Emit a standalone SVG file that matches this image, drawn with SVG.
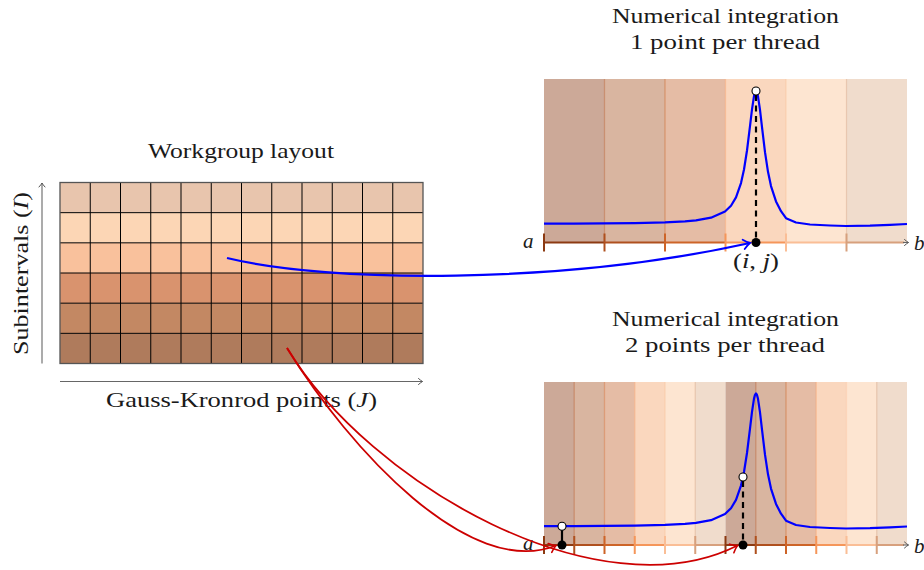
<svg xmlns="http://www.w3.org/2000/svg" xmlns:xlink="http://www.w3.org/1999/xlink" width="924" height="570" viewBox="0 0 924 570">
<defs>
<style>
.t{font-family:"Liberation Serif","Times New Roman",serif;font-size:21px;fill:#1a1a1a}
.m{font-style:italic}
.gl{stroke:#000;stroke-width:1;fill:none}
.ax{stroke:#666;stroke-width:1.1;fill:none}
.fn{stroke:#0000ff;stroke-width:2.2;fill:none;stroke-linejoin:round}
.blue{stroke:#0000ff;stroke-width:2.2;fill:none}
.red{stroke:#cc0000;stroke-width:1.8;fill:none}
.dash{stroke:#000;stroke-width:2.2;stroke-dasharray:6 4.5;fill:none}
.stem{stroke:#000;stroke-width:2.2;fill:none}
.hole{fill:#fff;stroke:#000;stroke-width:1.1}
.dot{fill:#000}
.c1{stroke:#8C3A12}.c2{stroke:#AF501E}.c3{stroke:#CD6428}.c4{stroke:#F5965A}.c5{stroke:#FABE96}.c6{stroke:#D7A07D}
.seg{stroke-width:2.2;fill:none}
.tk{stroke-width:2;fill:none}
.bd{stroke-width:1.2;fill:none;opacity:0.45}
</style>
<marker id="ahB" viewBox="-8 -6 10 12" markerWidth="10" markerHeight="12" refX="0" refY="0" orient="auto" markerUnits="userSpaceOnUse" overflow="visible">
<path d="M-6.5,-4.8 Q-2.5,-1.2 0,0 Q-2.5,1.2 -6.5,4.8" fill="none" stroke="#0000ff" stroke-width="1.8" stroke-linecap="round"/>
</marker>
<marker id="ahR" viewBox="-8 -6 10 12" markerWidth="10" markerHeight="12" refX="0" refY="0" orient="auto" markerUnits="userSpaceOnUse" overflow="visible">
<path d="M-6.5,-4.8 Q-2.5,-1.2 0,0 Q-2.5,1.2 -6.5,4.8" fill="none" stroke="#cc0000" stroke-width="1.6" stroke-linecap="round"/>
</marker>
<marker id="ahG" viewBox="-6 -4 8 8" markerWidth="8" markerHeight="8" refX="0" refY="0" orient="auto" markerUnits="userSpaceOnUse" overflow="visible">
<path d="M-4,-3 Q-1.5,-0.8 0,0 Q-1.5,0.8 -4,3" fill="none" stroke="#555" stroke-width="1" stroke-linecap="round"/>
</marker>
<path id="curve" class="fn" d="M544,223.7 L574,223.6 L604,223.4 L635,223.1 L665,222.4 L685,221.3 L696,220.4 L711,217.7 L725,211.5 L731,205.7 L736,197.4 L741,183.1 L744,169.5 L747,150.5 L750,126.2 L752,109.3 L754,96.1 L755,92.3 L756,91 L757,92.4 L758,96.3 L760,109.9 L762,127.2 L765,152.2 L768,171.8 L771,186.1 L776,201.4 L781,211.2 L786,218.2 L796,222.5 L810,224.5 L830,225.5 L846,226 L870,225.6 L890,224.8 L907,224"/>
</defs>
<rect width="924" height="570" fill="#fff"/>

<g id="workgroup">
<text class="t" x="241" y="158" text-anchor="middle" textLength="186" lengthAdjust="spacingAndGlyphs">Workgroup layout</text>
<rect x="60" y="182.5" width="363" height="30.17" fill="#E8C5AD"/>
<rect x="60" y="212.67" width="363" height="30.17" fill="#FCD6B5"/>
<rect x="60" y="242.83" width="363" height="30.17" fill="#F9C19C"/>
<rect x="60" y="273" width="363" height="30.17" fill="#D9936E"/>
<rect x="60" y="303.17" width="363" height="30.17" fill="#C38863"/>
<rect x="60" y="333.33" width="363" height="30.17" fill="#AF7B5C"/>
<path class="gl" d="M90.25,182.5V363.5M120.5,182.5V363.5M150.75,182.5V363.5M181,182.5V363.5M211.25,182.5V363.5M241.5,182.5V363.5M271.75,182.5V363.5M302,182.5V363.5M332.25,182.5V363.5M362.5,182.5V363.5M392.75,182.5V363.5M60,212.67H423M60,242.83H423M60,273H423M60,303.17H423M60,333.33H423"/>
<rect x="60" y="182.5" width="363" height="181" fill="none" stroke="#555" stroke-width="1.3"/>
<path class="ax" d="M42,363.5V183" marker-end="url(#ahG)"/>
<path class="ax" d="M60,381.5H422.5" marker-end="url(#ahG)"/>
<text class="t" transform="translate(28,273.5) rotate(-90)" text-anchor="middle" textLength="163" lengthAdjust="spacingAndGlyphs">Subintervals (<tspan class="m">I</tspan>)</text>
<text class="t" x="241.5" y="407" text-anchor="middle" textLength="271" lengthAdjust="spacingAndGlyphs">Gauss-Kronrod points (<tspan class="m">J</tspan>)</text>
</g>

<g id="plot1">
<text class="t" x="725.5" y="23" text-anchor="middle" textLength="227" lengthAdjust="spacingAndGlyphs">Numerical integration</text>
<text class="t" x="725" y="49" text-anchor="middle" textLength="190" lengthAdjust="spacingAndGlyphs">1 point per thread</text>
<rect x="544" y="79" width="60.5" height="163.5" fill="#CCA998"/>
<rect x="604.5" y="79" width="60.5" height="163.5" fill="#D9B5A0"/>
<rect x="665" y="79" width="60.5" height="163.5" fill="#E5BCA5"/>
<rect x="725.5" y="79" width="60.5" height="163.5" fill="#FAD7BE"/>
<rect x="786" y="79" width="60.5" height="163.5" fill="#FDE5D1"/>
<rect x="846.5" y="79" width="60.5" height="163.5" fill="#F0DCCC"/>
<path class="bd c2" d="M604.5,79V242.5"/>
<path class="bd c3" d="M665,79V242.5"/>
<path class="bd c4" d="M725.5,79V242.5"/>
<path class="bd c5" d="M786,79V242.5"/>
<path class="bd c6" d="M846.5,79V242.5"/>
<use xlink:href="#curve" href="#curve"/>
<path class="seg c1" d="M544,242.5H604.5"/>
<path class="seg c2" d="M604.5,242.5H665"/>
<path class="seg c3" d="M665,242.5H725.5"/>
<path class="seg c4" d="M725.5,242.5H786"/>
<path class="seg c5" d="M786,242.5H846.5"/>
<path class="seg c6" d="M846.5,242.5H904"/>
<path class="ax" d="M903,242.5H908.5" marker-end="url(#ahG)"/>
<path class="tk c1" d="M544,233.5V251.5"/>
<path class="tk c2" d="M604.5,233.5V251.5"/>
<path class="tk c3" d="M665,233.5V251.5"/>
<path class="tk c4" d="M725.5,233.5V251.5"/>
<path class="tk c5" d="M786,233.5V251.5"/>
<path class="tk c6" d="M846.5,233.5V251.5"/>
<path class="dash" d="M756,95V242.5"/>
<circle class="hole" cx="756" cy="91" r="4"/>
<circle class="dot" cx="756" cy="242.5" r="4.5"/>
<text class="t m" x="523" y="247.5">a</text>
<text class="t m" x="914" y="250">b</text>
<text class="t" x="756" y="268" text-anchor="middle" textLength="46" lengthAdjust="spacingAndGlyphs">(<tspan class="m">i</tspan>, <tspan class="m">j</tspan>)</text>
</g>

<g id="plot2">
<text class="t" x="725.5" y="326" text-anchor="middle" textLength="227" lengthAdjust="spacingAndGlyphs">Numerical integration</text>
<text class="t" x="725" y="352" text-anchor="middle" textLength="200" lengthAdjust="spacingAndGlyphs">2 points per thread</text>
<rect x="544" y="382" width="30.25" height="163" fill="#CCA998"/>
<rect x="574.25" y="382" width="30.25" height="163" fill="#D9B5A0"/>
<rect x="604.5" y="382" width="30.25" height="163" fill="#E5BCA5"/>
<rect x="634.75" y="382" width="30.25" height="163" fill="#FAD7BE"/>
<rect x="665" y="382" width="30.25" height="163" fill="#FDE5D1"/>
<rect x="695.25" y="382" width="30.25" height="163" fill="#F0DCCC"/>
<rect x="725.5" y="382" width="30.25" height="163" fill="#CCA998"/>
<rect x="755.75" y="382" width="30.25" height="163" fill="#D9B5A0"/>
<rect x="786" y="382" width="30.25" height="163" fill="#E5BCA5"/>
<rect x="816.25" y="382" width="30.25" height="163" fill="#FAD7BE"/>
<rect x="846.5" y="382" width="30.25" height="163" fill="#FDE5D1"/>
<rect x="876.75" y="382" width="30.25" height="163" fill="#F0DCCC"/>
<path class="bd c2" d="M574.25,382V545M755.75,382V545"/>
<path class="bd c3" d="M604.5,382V545M786,382V545"/>
<path class="bd c4" d="M634.75,382V545M816.25,382V545"/>
<path class="bd c5" d="M665,382V545M846.5,382V545"/>
<path class="bd c6" d="M695.25,382V545M876.75,382V545"/>
<use xlink:href="#curve" href="#curve" y="302.5"/>
<path class="seg c1" d="M544,545H574.25M725.5,545H755.75"/>
<path class="seg c2" d="M574.25,545H604.5M755.75,545H786"/>
<path class="seg c3" d="M604.5,545H634.75M786,545H816.25"/>
<path class="seg c4" d="M634.75,545H665M816.25,545H846.5"/>
<path class="seg c5" d="M665,545H695.25M846.5,545H876.75"/>
<path class="seg c6" d="M695.25,545H725.5M876.75,545H904"/>
<path class="ax" d="M903,545H908.5" marker-end="url(#ahG)"/>
<path class="tk c1" d="M544,536V554M725.5,536V554"/>
<path class="tk c2" d="M574.25,536V554M755.75,536V554"/>
<path class="tk c3" d="M604.5,536V554M786,536V554"/>
<path class="tk c4" d="M634.75,536V554M816.25,536V554"/>
<path class="tk c5" d="M665,536V554M846.5,536V554"/>
<path class="tk c6" d="M695.25,536V554M876.75,536V554"/>
<path class="stem" d="M562,530V545"/>
<path class="dash" d="M743,481V545"/>
<circle class="hole" cx="562" cy="526.2" r="4"/>
<circle class="hole" cx="743" cy="477" r="4"/>
<circle class="dot" cx="562" cy="545" r="4.5"/>
<circle class="dot" cx="743" cy="545" r="4.5"/>
<text class="t m" x="523" y="550">a</text>
<text class="t m" x="914" y="552.5">b</text>
</g>

<g id="connectors">
<path class="blue" d="M227,258 C330,283 560,285 750,243" marker-end="url(#ahB)"/>
<path class="red" d="M287,348 C350,450 470,580 556,545.5" marker-end="url(#ahR)"/>
<path class="red" d="M287,348 C370,485 600,615 737.5,545.5" marker-end="url(#ahR)"/>
</g>
</svg>
